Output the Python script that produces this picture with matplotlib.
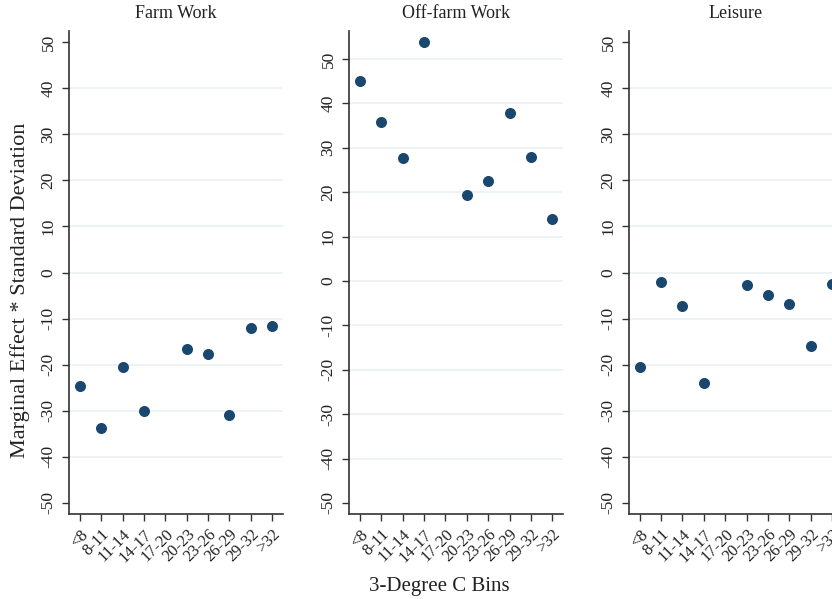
import numpy as np
import matplotlib
matplotlib.use("Agg")
import matplotlib.pyplot as plt

plt.rcParams['font.family'] = ['Liberation Serif', 'DejaVu Serif']

bins = ["<8", "8-11", "11-14", "14-17", "17-20", "20-23", "23-26", "26-29", "29-32", ">32"]
farm_work = [-24.6, -33.7, -20.4, -30.0, np.nan, -16.7, -17.7, -31.0, -12.0, -11.5]
offfarm_work = [45.0, 35.7, 27.6, 53.9, np.nan, 19.3, 22.6, 37.8, 28.0, 13.9]
leisure = [-20.6, -2.0, -7.3, -24.0, np.nan, -2.7, -4.8, -6.9, -16.0, -2.5]
titles = ["Farm Work", "Off-farm Work", "Leisure"]
yticks = [-50, -40, -30, -20, -10, 0, 10, 20, 30, 40, 50]

W, H = 832, 599
fig = plt.figure(figsize=(W / 100, H / 100), dpi=100)
fig.patch.set_facecolor('white')

lefts = [69, 349, 629]
top, bottom, width = 31, 514, 214
ylims = [(-52.4, 52.4), (-52.5, 56.3), (-52.4, 52.4)]
grid_skip = [(-50, 50), (-50,), (-50, 50)]
series = [farm_work, offfarm_work, leisure]
navy = '#1a476f'
x = np.arange(1, len(bins) + 1)

for l, data, t, yl, skip in zip(lefts, series, titles, ylims, grid_skip):
    ax = fig.add_axes([l / W, (H - bottom) / H, width / W, (bottom - top) / H])
    ax.set_xlim(0.5, 10.5)
    ax.set_ylim(*yl)
    ax.set_yticks(yticks)
    ax.set_yticklabels([str(v) for v in yticks], rotation=90, va='center', fontsize=12.5)
    ax.set_xticks(x)
    ax.set_xticklabels(bins, rotation=45, ha='right', rotation_mode='anchor', fontsize=12)
    for v in yticks:
        if v not in skip:
            ax.axhline(v, color='#eaf1f3', lw=1.2, zorder=0)
    for s in ['top', 'right']:
        ax.spines[s].set_visible(False)
    for s in ['left', 'bottom']:
        ax.spines[s].set_color('#333333')
        ax.spines[s].set_linewidth(1.2)
    ax.tick_params(axis='both', direction='out', length=5, width=1, color='#333333',
                   labelcolor='#222222', pad=4)
    ax.scatter(x, data, s=48, color=navy, zorder=3, clip_on=False)
    ax.set_title(t, fontsize=13, pad=9, color='#222222')

fig.text(20 / W, 1 - 290 / H, "Marginal Effect * Standard Deviation", rotation=90,
         ha='center', va='center', fontsize=16, color='#222222')
fig.text(439 / W, 1 - 586 / H, "3-Degree C Bins", ha='center', va='center', fontsize=15, color='#222222')

fig.savefig("out.png", dpi=100)
